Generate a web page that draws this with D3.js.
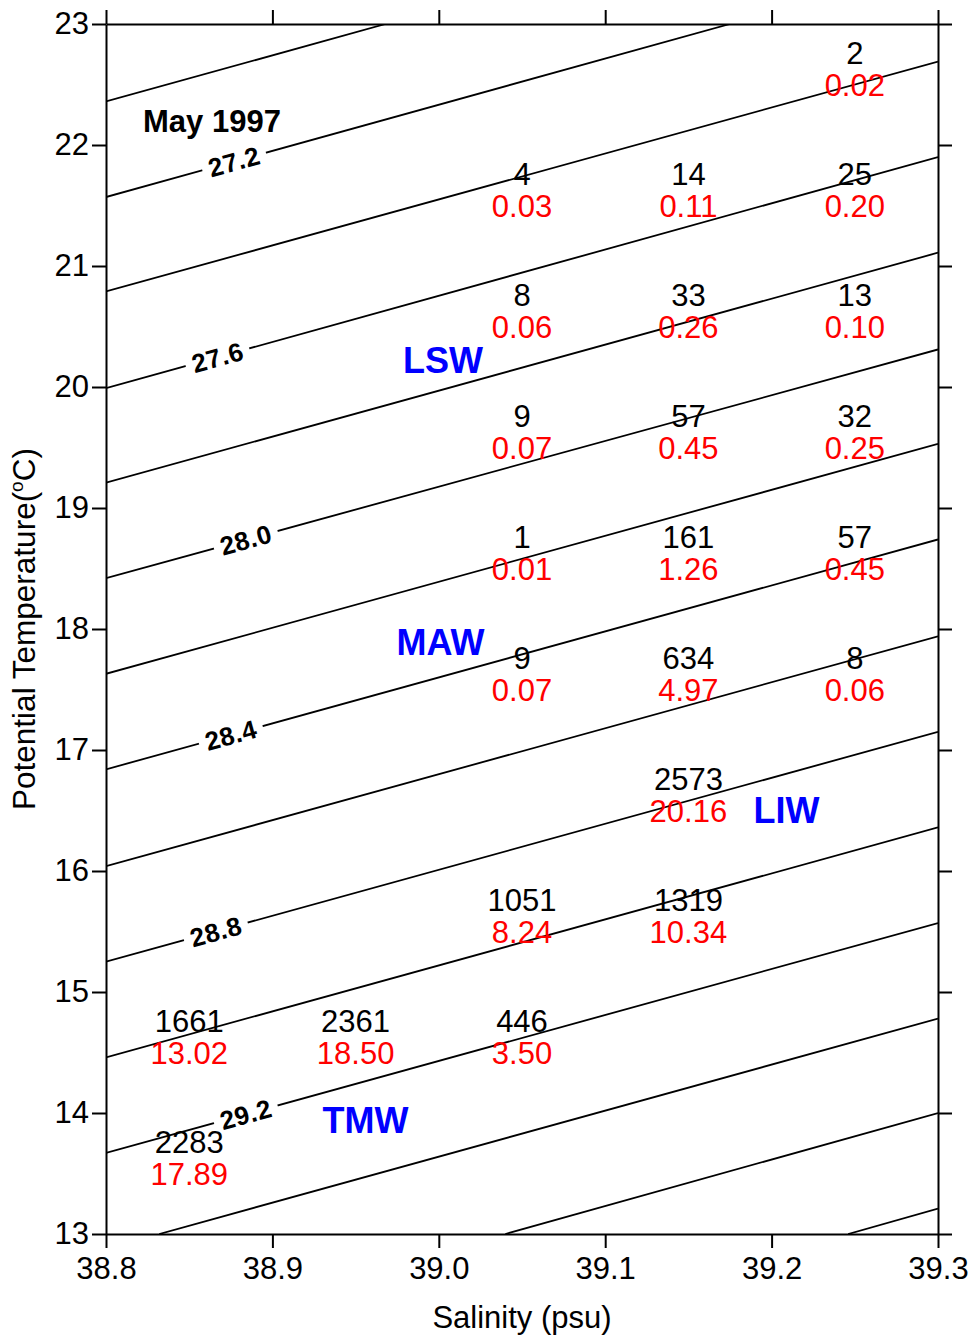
<!DOCTYPE html>
<html>
<head>
<meta charset="utf-8">
<script src="https://cdn.jsdelivr.net/npm/d3@7"></script>
<style>
  html, body { margin: 0; padding: 0; background: #ffffff; }
  svg { display: block; font-family: "Liberation Sans", Arial, Helvetica, sans-serif; }
</style>
</head>
<body>
<svg id="chart" width="973" height="1339"></svg>
<script>
// ---- Axes ----
const salinityTicks = [38.8, 38.9, 39.0, 39.1, 39.2, 39.3];
const temperatureTicks = [13, 14, 15, 16, 17, 18, 19, 20, 21, 22, 23];

// ---- Isopycnals (sigma-theta): where each line enters and leaves the frame, [salinity, temperature] ----
const isoLevels = [27.0, 27.2, 27.4, 27.6, 27.8, 28.0, 28.2, 28.4, 28.6, 28.8, 29.0, 29.2, 29.4, 29.6, 29.8];
const isoStart = [
  [38.8, 22.36], [38.8, 21.57], [38.8, 20.79], [38.8, 19.99], [38.8, 19.21],
  [38.8, 18.42], [38.8, 17.63], [38.8, 16.84], [38.8, 16.04], [38.8, 15.25],
  [38.8, 14.46], [38.8, 13.67], [38.832, 13.0], [39.040, 13.0], [39.246, 13.0]
];
const isoEnd = [
  [38.968, 23.0], [39.175, 23.0], [39.3, 22.69], [39.3, 21.90], [39.3, 21.11],
  [39.3, 20.31], [39.3, 19.53], [39.3, 18.74], [39.3, 17.94], [39.3, 17.15],
  [39.3, 16.36], [39.3, 15.57], [39.3, 14.78], [39.3, 14.00], [39.3, 13.21]
];

// Labelled isopycnals and the salinity at which each label sits
const isoLabelLevels = [27.2, 27.6, 28.0, 28.4, 28.8, 29.2];
const isoLabelSal = [38.877, 38.867, 38.884, 38.875, 38.866, 38.884];

// ---- Census: number of observations and percentage per 0.1 psu x 1 degC cell ----
const cellSal   = [39.25, 39.05, 39.15, 39.25, 39.05, 39.15, 39.25, 39.05, 39.15, 39.25,
                   39.05, 39.15, 39.25, 39.05, 39.15, 39.25, 39.15, 39.05, 39.15,
                   38.85, 38.95, 39.05, 38.85];
const cellTemp  = [22.5, 21.5, 21.5, 21.5, 20.5, 20.5, 20.5, 19.5, 19.5, 19.5,
                   18.5, 18.5, 18.5, 17.5, 17.5, 17.5, 16.5, 15.5, 15.5,
                   14.5, 14.5, 14.5, 13.5];
const cellCount = [2, 4, 14, 25, 8, 33, 13, 9, 57, 32,
                   1, 161, 57, 9, 634, 8, 2573, 1051, 1319,
                   1661, 2361, 446, 2283];
const cellPct   = ["0.02", "0.03", "0.11", "0.20", "0.06", "0.26", "0.10", "0.07", "0.45", "0.25",
                   "0.01", "1.26", "0.45", "0.07", "4.97", "0.06", "20.16", "8.24", "10.34",
                   "13.02", "18.50", "3.50", "17.89"];

// ---- Water masses ----
const massNames = ["LSW", "MAW", "LIW", "TMW"];
const massSal   = [39.0025, 39.001, 39.209, 38.956];
const massTemp  = [20.22, 17.89, 16.50, 13.94];

const periodLabel = "May 1997";
const periodSal = 38.8637;
const periodTemp = 22.20;

// ---- Layout ----
const frame = { left: 106, right: 938, top: 24, bottom: 1234 };
const svg = d3.select("#chart");

const x = d3.scaleLinear().domain([38.8, 39.3]).range([frame.left, frame.right]);
const y = d3.scaleLinear().domain([13, 23]).range([frame.bottom, frame.top]);

const tickLen = 14;
const fmt1 = d3.format(".1f");

// clip for isopycnals
const defs = svg.append("defs");
defs.append("clipPath").attr("id", "plot-clip")
  .append("rect")
  .attr("x", frame.left).attr("y", frame.top)
  .attr("width", frame.right - frame.left).attr("height", frame.bottom - frame.top);

// label geometry along each labelled isopycnal
function isoAt(level, s) {
  const i = isoLevels.indexOf(level);
  const p0 = isoStart[i], p1 = isoEnd[i];
  const t = p0[1] + (p1[1] - p0[1]) * (s - p0[0]) / (p1[0] - p0[0]);
  const ang = Math.atan2(y(p1[1]) - y(p0[1]), x(p1[0]) - x(p0[0])) * 180 / Math.PI;
  return { px: x(s), py: y(t), ang };
}
const isoLabels = isoLabelLevels.map((lv, k) => Object.assign({ level: lv }, isoAt(lv, isoLabelSal[k])));

// mask opening a gap in the lines under each label
const mask = defs.append("mask").attr("id", "iso-mask").attr("maskUnits", "userSpaceOnUse")
  .attr("x", 0).attr("y", 0).attr("width", 973).attr("height", 1339);
mask.append("rect").attr("x", 0).attr("y", 0).attr("width", 973).attr("height", 1339).attr("fill", "#fff");
mask.selectAll("rect.gap").data(isoLabels).join("rect")
  .attr("class", "gap")
  .attr("x", -33).attr("y", -14).attr("width", 66).attr("height", 28)
  .attr("fill", "#000")
  .attr("transform", d => `translate(${d.px},${d.py}) rotate(${d.ang})`);

// isopycnal lines
const line = d3.line().x(d => x(d[0])).y(d => y(d[1]));
svg.append("g")
  .attr("clip-path", "url(#plot-clip)")
  .append("g")
  .attr("mask", "url(#iso-mask)")
  .selectAll("path")
  .data(isoLevels.map((lv, i) => [isoStart[i], isoEnd[i]]))
  .join("path")
  .attr("d", line)
  .attr("fill", "none")
  .attr("stroke", "#000")
  .attr("stroke-width", 1.8);

// isopycnal labels
svg.append("g").selectAll("text")
  .data(isoLabels)
  .join("text")
  .attr("transform", d => `translate(${d.px},${d.py}) rotate(${d.ang})`)
  .attr("text-anchor", "middle")
  .attr("dy", "0.36em")
  .attr("font-size", 26)
  .attr("font-weight", "bold")
  .attr("letter-spacing", 0.5)
  .attr("fill", "#000")
  .text(d => fmt1(d.level));

// ---- Axes ----
function styleAxis(g) {
  g.selectAll("path.domain").attr("stroke", "#000").attr("stroke-width", 2);
  g.selectAll(".tick line").attr("stroke", "#000").attr("stroke-width", 2);
  g.selectAll(".tick text")
    .attr("fill", "#000")
    .attr("font-size", 31)
    .attr("font-family", "'Liberation Sans', Arial, Helvetica, sans-serif");
}

svg.append("g")
  .attr("transform", `translate(0,${frame.bottom})`)
  .call(d3.axisBottom(x).tickValues(salinityTicks).tickFormat(fmt1)
    .tickSizeInner(tickLen).tickSizeOuter(0).tickPadding(9))
  .call(styleAxis);

svg.append("g")
  .attr("transform", `translate(0,${frame.top})`)
  .call(d3.axisTop(x).tickValues(salinityTicks).tickFormat("")
    .tickSizeInner(tickLen).tickSizeOuter(0))
  .call(styleAxis);

svg.append("g")
  .attr("transform", `translate(${frame.left},0)`)
  .call(d3.axisLeft(y).tickValues(temperatureTicks).tickFormat(d3.format("d"))
    .tickSizeInner(tickLen).tickSizeOuter(0).tickPadding(3))
  .call(styleAxis);

svg.append("g")
  .attr("transform", `translate(${frame.right},0)`)
  .call(d3.axisRight(y).tickValues(temperatureTicks).tickFormat("")
    .tickSizeInner(tickLen).tickSizeOuter(0))
  .call(styleAxis);

// axis titles
svg.append("text")
  .attr("x", (frame.left + frame.right) / 2)
  .attr("y", 1328)
  .attr("text-anchor", "middle")
  .attr("font-size", 31)
  .attr("fill", "#000")
  .text("Salinity (psu)");

const yTitle = svg.append("text")
  .attr("transform", `translate(35,${(frame.top + frame.bottom) / 2}) rotate(-90)`)
  .attr("text-anchor", "middle")
  .attr("font-size", 31.5)
  .attr("fill", "#000");
yTitle.append("tspan").text("Potential Temperature(");
yTitle.append("tspan").attr("font-size", 19).attr("dy", -12).text("o");
yTitle.append("tspan").attr("dy", 12).text("C)");

// ---- Census cells ----
const cells = cellCount.map((c, i) => ({ s: cellSal[i], t: cellTemp[i], count: c, pct: cellPct[i] }));
const cellG = svg.append("g").attr("font-size", 31).attr("text-anchor", "middle");
cellG.selectAll("text.count").data(cells).join("text")
  .attr("class", "count")
  .attr("x", d => x(d.s))
  .attr("y", d => y(d.t) - 21)
  .attr("fill", "#000")
  .text(d => d.count);
cellG.selectAll("text.pct").data(cells).join("text")
  .attr("class", "pct")
  .attr("x", d => x(d.s))
  .attr("y", d => y(d.t) + 11)
  .attr("fill", "#ff0000")
  .text(d => d.pct);

// ---- Water mass names ----
svg.append("g").selectAll("text")
  .data(massNames.map((n, i) => ({ name: n, s: massSal[i], t: massTemp[i] })))
  .join("text")
  .attr("x", d => x(d.s))
  .attr("y", d => y(d.t))
  .attr("dy", "0.36em")
  .attr("text-anchor", "middle")
  .attr("font-size", 36)
  .attr("font-weight", "bold")
  .attr("fill", "#0000ff")
  .text(d => d.name);

// ---- Period ----
svg.append("text")
  .attr("x", x(periodSal))
  .attr("y", y(periodTemp))
  .attr("dy", "0.36em")
  .attr("text-anchor", "middle")
  .attr("font-size", 31)
  .attr("font-weight", "bold")
  .attr("fill", "#000")
  .text(periodLabel);
</script>
</body>
</html>
